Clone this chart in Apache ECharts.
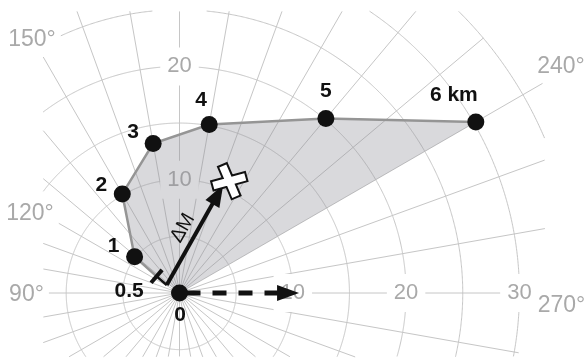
<!DOCTYPE html>
<html><head><meta charset="utf-8">
<script src="https://cdn.jsdelivr.net/npm/echarts@6/dist/echarts.min.js"></script>
<style>html,body{margin:0;padding:0;background:#fff}#c{width:587px;height:360px}</style>
</head><body><div id="c"></div>
<script>
// ---- data ----
const heights    = [0, 0.5, 1, 2, 3, 4, 5, 6];           // km
const speeds     = [0, 2.5, 5.1, 10.1, 13.4, 15.1, 20.1, 30.2]; // m/s
const directions = [0, 126, 129, 150, 170, 190, 220, 240];     // deg
const shearBase  = [1.33, 122];     // ΔM arrow start [speed, dir]
const shearTip   = [10.3, 202];     // ΔM arrow tip
const stormMotion = [10.8, 204];    // storm marker
const dashedArrowTip = [10.55, 270];
const radiusTicksRight = [10, 20, 30];   // along 270°
const radiusTicksUp    = [10, 20];       // along 180°
const angleTickLabels  = ['90°', '120°', '150°', '240°', '270°'];

// ---- layout ----
const PX = 11.33;            // px per m/s
const CENTER = [179.5, 293];
const RMAX = 35;
const labelOffsets = [[0.5,22.5],[-27.5,15],[-21,-10],[-21,-8.5],[-20,-11.5],[-8,-24],[0,-27],[-22,-27]];
const angleLabelPos = [[26.5,295],[30,214],[32,40],[561,66.5],[561.5,306]];
const GRID = '#c6c6c6', TICKTXT = '#a9a9a9', INK = '#111';
const FONT = 'Liberation Sans, Arial, Helvetica, sans-serif';
// visible window of the (cropped) polar grid
function inside(p){
  const x=p[0], y=p[1];
  if (x < 43 || x > 545 || y < 11 || y > 357) return false;
  if (x > 519 && y > 349) return false;
  return true;
}

const chart = echarts.init(document.getElementById('c'), null, {renderer:'canvas'});

const starPath = 'path://M21.1,10.1 L41.3,1.5 L78.9,89.9 L58.7,98.5 Z M0.8,52.2 L93.4,26.6 L99.2,47.8 L6.6,73.4 Z';

function arrowEls(api, from, to, w, dash, off) {
  const p0 = api.coord(from), p1 = api.coord(to);
  const dx = p1[0]-p0[0], dy = p1[1]-p0[1], L = Math.hypot(dx,dy);
  const ux = dx/L, uy = dy/L, nx = -uy, ny = ux;
  const hl = 22, hw = 8;
  const bx = p1[0]-ux*hl, by = p1[1]-uy*hl;
  return [
    {type:'line', shape:{x1:p0[0], y1:p0[1], x2:bx+ux*2, y2:by+uy*2},
     style:{stroke:INK, lineWidth:w, lineDash:dash||null, lineDashOffset:off||0}},
    {type:'polygon', shape:{points:[[p1[0],p1[1]],[bx+nx*hw,by+ny*hw],[bx-nx*hw,by-ny*hw]]},
     style:{fill:INK}}
  ];
}

const dotData = heights.map((h,i)=>({
  value:[speeds[i], directions[i]],
  symbolSize: h===0.5 ? 0 : 17,
  label:{offset:labelOffsets[i]}
}));

const tickData = radiusTicksRight.map(v=>[v,270]).concat(radiusTicksUp.map(v=>[v,180]));

const option = {
  animation:false,
  backgroundColor:'#fff',
  polar:{center:CENTER, radius:RMAX*PX},
  angleAxis:{type:'value', min:0, max:360, interval:10, startAngle:270, clockwise:true,
    axisLine:{show:false}, axisTick:{show:false}, axisLabel:{show:false}, splitLine:{show:false}},
  radiusAxis:{type:'value', min:0, max:RMAX, interval:5,
    axisLine:{show:false}, axisTick:{show:false}, axisLabel:{show:false}, splitLine:{show:false}},
  series:[
    { // polar grid (rings every 5 m/s, spokes every 10°), cropped to the window
      type:'custom', coordinateSystem:'polar', z:1, silent:true, data:[[0,0]],
      renderItem(params, api){
        const segs = [];
        for (let r = 5; r <= RMAX; r += 5) {
          let cur = [];
          for (let a = 0; a <= 360.001; a += 0.25) {
            const p = api.coord([r, a]);
            if (inside(p)) cur.push(p);
            else { if (cur.length > 1) segs.push(cur); cur = []; }
          }
          if (cur.length > 1) segs.push(cur);
        }
        const rings = segs.map(pts=>({type:'polyline', shape:{points:pts}, style:{stroke:GRID, lineWidth:1, fill:null}}));
        const spokes = [];
        const c = api.coord([0,0]);
        for (let a = 0; a < 360; a += 10) {
          const ext = a === 240 ? 37 : RMAX;
          let last = c;
          for (let r = 0.05; r <= ext + 1e-9; r += 0.05) {
            const p = api.coord([r, a]);
            if (!inside(p)) break;
            last = p;
          }
          spokes.push({type:'line', shape:{x1:c[0], y1:c[1], x2:last[0], y2:last[1]}, style:{stroke:GRID, lineWidth:1}});
        }
        return {type:'group', children:rings.concat(spokes)};
      }
    },
    { // angle labels
      type:'custom', coordinateSystem:'none', z:10, silent:true, data:[0],
      renderItem(){
        return {type:'group', children:angleTickLabels.map((t,i)=>({
          type:'text', x:angleLabelPos[i][0], y:angleLabelPos[i][1],
          style:{text:t, fill:TICKTXT, font:'23px '+FONT, align:'center', verticalAlign:'middle',
            backgroundColor:'#fff', padding:[3,5]}}))};
      }
    },
    { // radius tick labels
      type:'scatter', coordinateSystem:'polar', z:2, silent:true, symbolSize:0,
      itemStyle:{opacity:1},
      data:tickData,
      label:{show:true, position:'inside', formatter:p=>String(p.value[0]),
        color:TICKTXT, fontSize:22, fontFamily:FONT, lineHeight:22,
        backgroundColor:'#fff', padding:[8,7]}
    },
    { // hodograph shaded area + line
      type:'custom', coordinateSystem:'polar', z:3, silent:true, data:[[0,0]],
      renderItem(params, api){
        const pts = speeds.map((s,i)=>api.coord([s, directions[i]]));
        return {type:'group', children:[
          {type:'polygon', shape:{points:pts}, style:{fill:'rgba(140,140,150,0.33)'}},
          {type:'polyline', shape:{points:pts.slice(1)}, style:{stroke:'#959595', lineWidth:2.5, fill:null}}
        ]};
      }
    },
    { // arrows, T-mark and ΔM label
      type:'custom', coordinateSystem:'polar', z:4, silent:true, data:[[0,0]],
      renderItem(params, api){
        const els = [];
        arrowEls(api, [0,0], dashedArrowTip, 5, [14,12], 19).forEach(e=>els.push(e));
        arrowEls(api, shearBase, shearTip, 4).forEach(e=>els.push(e));
        const p = api.coord([speeds[1], directions[1]]), q = api.coord(shearBase);
        const dx=q[0]-p[0], dy=q[1]-p[1], L=Math.hypot(dx,dy), ux=dx/L, uy=dy/L;
        const bl = 8.5;
        els.push({type:'line', shape:{x1:p[0],y1:p[1],x2:q[0],y2:q[1]}, style:{stroke:INK, lineWidth:2.5}});
        els.push({type:'line', shape:{x1:p[0]-uy*bl, y1:p[1]+ux*bl, x2:p[0]+uy*bl, y2:p[1]-ux*bl},
          style:{stroke:INK, lineWidth:4}});
        const s = api.coord(shearBase), t = api.coord(shearTip);
        const ax=t[0]-s[0], ay=t[1]-s[1], AL=Math.hypot(ax,ay), vx=ax/AL, vy=ay/AL;
        const mx=(s[0]+t[0])/2 + vy*14, my=(s[1]+t[1])/2 - vx*14;
        els.push({type:'text', x:mx, y:my, rotation:Math.atan2(-ay, ax),
          style:{text:'ΔM', fill:INK, font:'20px '+FONT, align:'center', verticalAlign:'middle'}});
        return {type:'group', children:els};
      }
    },
    { // height dots + labels
      type:'scatter', coordinateSystem:'polar', z:5, silent:true,
      symbol:'circle', itemStyle:{color:INK, opacity:1},
      data:dotData,
      label:{show:true, position:'inside', formatter:p=>{const h=heights[p.dataIndex]; return h===6? '6 km' : String(h);},
        color:INK, fontSize:21, fontWeight:'bold', fontFamily:FONT}
    },
    { // storm marker outline
      type:'scatter', coordinateSystem:'polar', z:6, silent:true,
      symbol:starPath, symbolSize:34, symbolKeepAspect:true,
      itemStyle:{color:INK, borderColor:INK, borderWidth:4, opacity:1},
      data:[stormMotion]
    },
    { // storm marker fill
      type:'scatter', coordinateSystem:'polar', z:7, silent:true,
      symbol:starPath, symbolSize:34, symbolKeepAspect:true,
      itemStyle:{color:'#fff', borderWidth:0, opacity:1},
      data:[stormMotion]
    }
  ]
};
chart.setOption(option);
</script>
</body></html>
